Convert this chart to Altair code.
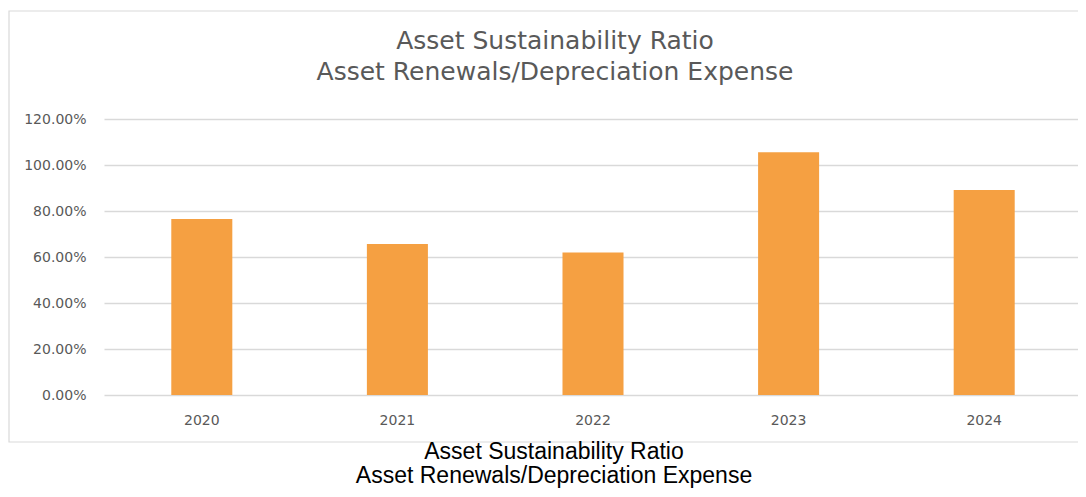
import altair as alt
import pandas as pd

YEARS = ["2020", "2021", "2022", "2023", "2024"]
RATIOS = [0.765, 0.657, 0.620, 1.055, 0.891]
Y_TICKS = [0.0, 0.2, 0.4, 0.6, 0.8, 1.0, 1.2]
TITLE_LINES = ["Asset Sustainability Ratio", "Asset Renewals/Depreciation Expense"]
CAPTION_LINES = ["Asset Sustainability Ratio", "Asset Renewals/Depreciation Expense"]

df = pd.DataFrame({"year": YEARS, "ratio": RATIOS})
one = pd.DataFrame({"k": [0]})

W, H = 974, 276
GRAY = "#595959"
GRID = "#D9D9D9"

border = alt.Chart(one).mark_rect(
    fillOpacity=0, stroke=GRID, strokeWidth=1.2
).encode(
    x=alt.value(-95), x2=alt.value(990), y=alt.value(-108), y2=alt.value(323)
)

bars = alt.Chart(df).mark_bar(color="#F5A042").encode(
    x=alt.X(
        "year:N",
        sort=YEARS,
        scale=alt.Scale(range=[0, 978], paddingInner=0.688, paddingOuter=0.344),
        axis=alt.Axis(
            title=None, labelAngle=0, domain=False, ticks=False, tickSize=0,
            labelPadding=18, labelFont="DejaVu Sans", labelFontSize=14,
            labelColor=GRAY,
        ),
    ),
    y=alt.Y(
        "ratio:Q",
        scale=alt.Scale(domain=[0, 1.2], nice=False),
        axis=alt.Axis(
            title=None, values=Y_TICKS, format=".2%", domain=False, ticks=False,
            tickSize=0, labelPadding=18, labelFont="DejaVu Sans", labelFontSize=14,
            labelColor=GRAY, gridColor=GRID, gridWidth=1.3,
        ),
    ),
)

title = alt.Chart(one).mark_text(
    text=TITLE_LINES, font="DejaVu Sans", fontSize=25, color=GRAY,
    align="center", baseline="alphabetic", lineHeight=31,
).encode(x=alt.value(451), y=alt.value(-70))

caption = alt.Chart(one).mark_text(
    text=CAPTION_LINES, font="Liberation Sans", fontSize=23, color="#000000",
    align="center", baseline="alphabetic", lineHeight=24,
).encode(x=alt.value(450), y=alt.value(340))

chart = alt.layer(border, bars, title, caption).properties(
    width=W, height=H,
    autosize=alt.AutoSizeParams(type="none"),
    padding={"left": 96, "top": 111, "right": 0, "bottom": 93},
).configure(background="white").configure_view(strokeWidth=0, stroke="transparent")

chart.save("out.html", embed_options={"renderer": "svg", "actions": False})
